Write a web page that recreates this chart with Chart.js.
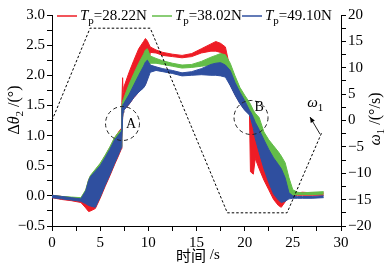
<!DOCTYPE html>
<html>
<head>
<meta charset="utf-8">
<script src="https://cdn.jsdelivr.net/npm/chart.js@4.4.0/dist/chart.umd.min.js"></script>
<style>
  html, body { margin: 0; padding: 0; background: #fff; }
  #wrap { width: 388px; height: 268px; }
</style>
</head>
<body>
<div id="wrap"><canvas id="chart" width="388" height="268"></canvas></div>
<script>
// time axis shared by all three bands (s)
const times = [0, 1, 2, 3, 3.5, 3.8, 4, 4.5, 5, 5.5, 6, 6.5, 7, 7.2, 7.25, 7.33, 7.38, 7.45, 8, 8.5,
  9, 9.5, 9.7, 9.9, 10.2, 10.8, 11.5, 12.5, 13.5, 14.5, 15.5, 16.5, 17, 17.5, 18, 18.5,
  19, 19.5, 20, 20.5, 20.6, 20.9, 21.1, 21.5, 22, 22.5, 23, 23.5, 23.8, 24.2, 24.6, 25, 25.5, 26, 27, 28.2];

// upper / lower envelope of each oscillating trace (deg)
const redHi = [0.01, -0.01, -0.03, -0.04, 0.08, 0.26, 0.33, 0.43, 0.53, 0.66, 0.8, 0.96, 1.08, 1.12, 1.55, 1.96, 1.72, 1.8, 2.05, 2.25,
  2.44, 2.56, 2.61, 2.57, 2.47, 2.42, 2.38, 2.35, 2.33, 2.36, 2.44, 2.52, 2.56, 2.53, 2.47, 2.1,
  1.85, 1.7, 1.55, 1.4, 1.3, 1.25, 1.15, 1.05, 0.9, 0.75, 0.6, 0.5, 0.42, 0.25, 0.06, 0.05, 0.05, 0.06, 0.05, 0.05];
const redLo = [-0.03, -0.06, -0.08, -0.11, -0.2, -0.26, -0.25, -0.21, -0.04, 0.15, 0.33, 0.52, 0.7, 0.78, 0.95, 1.3, 1.38, 1.42, 1.52, 1.63,
  1.72, 1.8, 1.85, 1.95, 2.38, 2.37, 2.33, 2.31, 2.29, 2.31, 2.37, 2.4, 2.4, 2.38, 2.3, 1.84,
  1.68, 1.54, 1.43, 1.35, 0.4, 0.36, 0.62, 0.45, 0.26, 0.1, -0.06, -0.16, -0.19, -0.1, -0.02, 0.0, 0.01, 0.01, 0.01, 0.01];

const greenHi = [0.01, -0.01, -0.02, -0.03, 0.1, 0.27, 0.34, 0.44, 0.54, 0.67, 0.81, 0.97, 1.07, 1.1, 1.5, 1.56, 1.6, 1.62, 1.85, 2.03,
  2.2, 2.35, 2.42, 2.44, 2.32, 2.28, 2.24, 2.2, 2.17, 2.18, 2.23, 2.3, 2.33, 2.36, 2.34, 2.2,
  1.99, 1.8, 1.67, 1.55, 1.52, 1.42, 1.37, 1.3, 1.06, 0.93, 0.83, 0.73, 0.66, 0.55, 0.3, 0.1, 0.06, 0.05, 0.06, 0.07];
const greenLo = [-0.02, -0.04, -0.06, -0.07, -0.1, -0.13, -0.14, -0.16, 0.0, 0.19, 0.37, 0.56, 0.74, 0.82, 0.97, 1.32, 1.4, 1.44, 1.55, 1.66,
  1.75, 1.85, 1.9, 2.0, 2.2, 2.2, 2.18, 2.15, 2.12, 2.13, 2.15, 2.17, 2.17, 2.17, 2.08, 1.9,
  1.7, 1.56, 1.45, 1.36, 1.32, 1.15, 1.0, 0.76, 0.5, 0.27, 0.08, -0.02, -0.05, -0.03, 0.0, 0.01, 0.02, 0.02, 0.02, 0.03];

const blueHi = [0.01, -0.01, -0.03, -0.05, 0.08, 0.25, 0.32, 0.41, 0.5, 0.63, 0.77, 0.93, 1.03, 1.07, 1.45, 1.5, 1.52, 1.53, 1.68, 1.84,
  2.0, 2.15, 2.22, 2.25, 2.17, 2.14, 2.11, 2.08, 2.04, 2.06, 2.11, 2.18, 2.2, 2.21, 2.17, 2.08,
  1.88, 1.72, 1.58, 1.42, 1.4, 1.3, 1.22, 1.1, 0.93, 0.77, 0.63, 0.52, 0.45, 0.3, 0.05, 0.0, -0.01, -0.01, -0.01, 0.0];
const blueLo = [-0.03, -0.05, -0.07, -0.09, -0.13, -0.16, -0.17, -0.19, -0.02, 0.17, 0.35, 0.54, 0.72, 0.8, 0.95, 1.3, 1.38, 1.42, 1.52, 1.63,
  1.72, 1.79, 1.84, 1.92, 2.05, 2.08, 2.06, 2.03, 1.99, 2.0, 2.01, 2.0, 2.0, 1.99, 1.97, 1.83,
  1.67, 1.53, 1.42, 1.34, 1.3, 1.12, 0.95, 0.72, 0.45, 0.22, 0.03, -0.07, -0.11, -0.09, -0.05, -0.04, -0.04, -0.04, -0.04, -0.03];

// input angular speed omega1 (deg/s), dashed line on right axis
const omegaTimes = [0, 3.95, 10.2, 18.2, 24.4, 28.0];
const omegaValues = [0, 17.5, 17.5, -17.5, -17.5, -2.3];

const seriesLabels = ['=28.22N', '=38.02N', '=49.10N'];
const seriesColors = ['#ee1c25', '#63bd48', '#2f4f9f'];

const SERIF = "'Times New Roman', 'Liberation Serif', Tinos, serif";
const MINUS = '\u2212';

function pts(values, xs) {
  return values.map((v, i) => ({ x: (xs || times)[i], y: v }));
}
function band(hi, lo, color, order) {
  return [
    { data: pts(hi), borderColor: color, backgroundColor: color, borderWidth: 1, pointRadius: 0, fill: '+1', order: order, yAxisID: 'y' },
    { data: pts(lo), borderColor: color, backgroundColor: color, borderWidth: 1, pointRadius: 0, fill: false, order: order, yAxisID: 'y' },
  ];
}
function fmtNum(v, digits) {
  const s = Math.abs(v).toFixed(digits);
  return v < 0 ? MINUS + s : s;
}
function isMultiple(v, step) {
  return Math.abs(v / step - Math.round(v / step)) < 1e-6;
}

// text made of runs: {t, it (italic), sub}
function runWidth(ctx, parts, size) {
  let w = 0;
  parts.forEach(p => {
    ctx.font = (p.it ? 'italic ' : '') + (p.sub ? Math.round(size * 0.7) : size) + 'px ' + (p.font || SERIF);
    w += ctx.measureText(p.t).width;
  });
  return w;
}
function drawRuns(ctx, parts, x, y, size) {
  parts.forEach(p => {
    ctx.font = (p.it ? 'italic ' : '') + (p.sub ? Math.round(size * 0.7) : size) + 'px ' + (p.font || SERIF);
    ctx.fillText(p.t, x, p.sub ? y + size * 0.3 : y);
    x += ctx.measureText(p.t).width;
  });
  return x;
}

const annotations = {
  id: 'annotations',
  afterDatasetsDraw(chart) {
    const ctx = chart.ctx;
    const sx = chart.scales.x, sy = chart.scales.y, sw = chart.scales.y1;
    ctx.save();
    ctx.fillStyle = '#000';
    ctx.textBaseline = 'alphabetic';

    // dashed circles A and B
    ctx.strokeStyle = '#222';
    ctx.lineWidth = 1;
    ctx.setLineDash([4, 3]);
    [[7.32, 1.2], [20.66, 1.3]].forEach(c => {
      ctx.beginPath();
      ctx.arc(sx.getPixelForValue(c[0]), sy.getPixelForValue(c[1]), 17, 0, Math.PI * 2);
      ctx.stroke();
    });
    ctx.setLineDash([]);
    ctx.font = '14px ' + SERIF;
    ctx.textAlign = 'center';
    ctx.textBaseline = 'middle';
    ctx.fillText('A', sx.getPixelForValue(8.2), sy.getPixelForValue(1.18));
    ctx.fillText('B', sx.getPixelForValue(21.5), sy.getPixelForValue(1.47));

    // omega1 arrow
    const x0 = sx.getPixelForValue(27.82), y0 = sw.getPixelForValue(-2.56);
    const x1 = sx.getPixelForValue(26.78), y1 = sw.getPixelForValue(0.66);
    ctx.beginPath(); ctx.moveTo(x0, y0); ctx.lineTo(x1, y1); ctx.stroke();
    const a = Math.atan2(y1 - y0, x1 - x0);
    ctx.beginPath();
    ctx.moveTo(x1, y1);
    ctx.lineTo(x1 - 6 * Math.cos(a - 0.4), y1 - 6 * Math.sin(a - 0.4));
    ctx.lineTo(x1 - 6 * Math.cos(a + 0.4), y1 - 6 * Math.sin(a + 0.4));
    ctx.closePath(); ctx.fill();
    ctx.textAlign = 'left';
    ctx.textBaseline = 'alphabetic';
    drawRuns(ctx, [{ t: '\u03c9', it: 1 }, { t: '1', sub: 1 }], sx.getPixelForValue(26.5), sw.getPixelForValue(2.6), 15);

    // legend
    const lx = [57, 152, 242];
    seriesColors.forEach((col, i) => {
      ctx.strokeStyle = col;
      ctx.lineWidth = 1.5;
      ctx.beginPath(); ctx.moveTo(lx[i], 16); ctx.lineTo(lx[i] + 20, 16); ctx.stroke();
      drawRuns(ctx, [{ t: 'T', it: 1 }, { t: 'p', sub: 1 }, { t: seriesLabels[i] }], lx[i] + 23, 19.5, 15);
    });
    ctx.restore();
  },
  afterDraw(chart) {
    const ctx = chart.ctx;
    ctx.save();
    ctx.fillStyle = '#000';
    ctx.textBaseline = 'middle';
    ctx.textAlign = 'left';
    // x title
    const xt = [{ t: '\u65f6\u95f4', font: "'Noto Sans CJK SC', sans-serif" }, { t: ' /s' }];
    drawRuns(ctx, xt, 198 - runWidth(ctx, xt, 15) / 2, 255, 15);
    // left title
    const lt = [{ t: '\u0394' }, { t: '\u03b8', it: 1 }, { t: '2', sub: 1 }, { t: ' /(\u00b0)' }];
    ctx.translate(15, 110);
    ctx.rotate(-Math.PI / 2);
    drawRuns(ctx, lt, -runWidth(ctx, lt, 16) / 2, 0, 16);
    ctx.setTransform(1, 0, 0, 1, 0, 0);
    // right title
    const rt = [{ t: '\u03c9', it: 1 }, { t: '1', sub: 1 }, { t: ' /(\u00b0/s)' }];
    ctx.translate(376, 119);
    ctx.rotate(-Math.PI / 2);
    drawRuns(ctx, rt, -runWidth(ctx, rt, 16) / 2, 0, 16);
    ctx.restore();
  }
};

const axisBase = {
  border: { display: true, color: '#000', width: 1 },
  grid: { display: true, drawOnChartArea: false, tickLength: 5, color: '#000', tickColor: '#000' },
};

new Chart(document.getElementById('chart'), {
  type: 'line',
  data: {
    datasets: [
      { data: pts(omegaValues, omegaTimes), borderColor: '#000', borderWidth: 1, borderDash: [2.5, 2], pointRadius: 0, fill: false, order: 0, yAxisID: 'y1' },
      ...band(blueHi, blueLo, seriesColors[2], 1),
      ...band(greenHi, greenLo, seriesColors[1], 2),
      ...band(redHi, redLo, seriesColors[0], 3),
    ],
  },
  options: {
    responsive: false,
    animation: false,
    layout: { padding: { top: 15, left: 0, right: 0, bottom: 0 } },
    plugins: { legend: { display: false }, tooltip: { enabled: false } },
    elements: { line: { tension: 0 } },
    scales: {
      x: {
        ...axisBase, type: 'linear', min: 0, max: 30,
        afterFit: s => { s.height = 42; },
        ticks: { stepSize: 2.5, autoSkip: false, maxRotation: 0, padding: 3, color: '#000', font: { size: 15, family: SERIF },
          callback: v => isMultiple(v, 5) ? String(v) : '' },
      },
      y: {
        ...axisBase, position: 'left', min: -0.5, max: 3,
        afterFit: s => { s.width = 52; },
        ticks: { stepSize: 0.25, autoSkip: false, padding: 2, color: '#000', font: { size: 15, family: SERIF },
          callback: v => isMultiple(v, 0.5) ? fmtNum(v, 1) : '' },
      },
      y1: {
        ...axisBase, position: 'right', min: -20, max: 20,
        afterFit: s => { s.width = 47; },
        ticks: { stepSize: 2.5, autoSkip: false, padding: 2, color: '#000', font: { size: 15, family: SERIF },
          callback: v => isMultiple(v, 5) ? fmtNum(v, 0) : '' },
      },
    },
  },
  plugins: [annotations],
});
</script>
</body>
</html>
